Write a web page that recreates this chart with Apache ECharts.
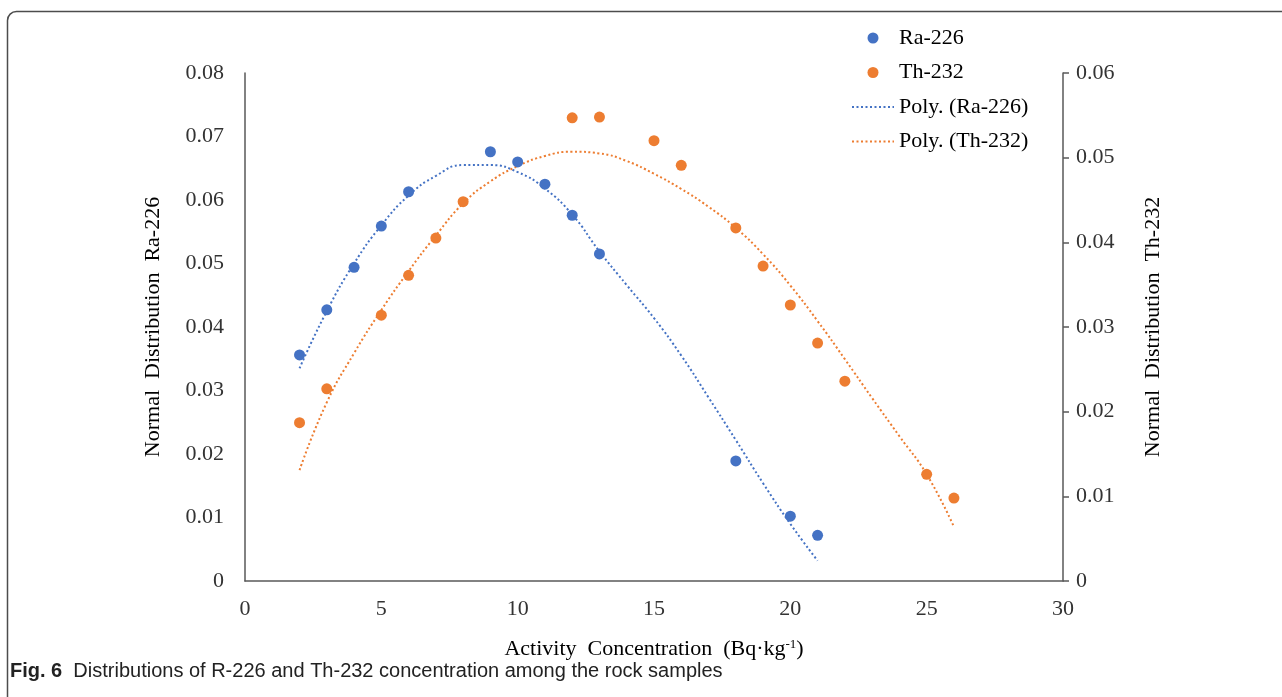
<!DOCTYPE html>
<html lang="en">
<head>
	<meta charset="UTF-8">
	<title>Fig. 6</title>
	<script src="https://cdn.jsdelivr.net/npm/echarts@6/dist/echarts.min.js"></script>
	<style>
		html, body { margin: 0; padding: 0; background: #fff; }
		#chart { width: 1282px; height: 697px; }
	</style>
</head>
<body>
	<div id="chart"></div>
	<script>
		// 散点数据
		var raX = [2, 3, 4, 5, 6, 9, 10, 11, 12, 13, 18, 20, 21];
		var raY = [0.0356, 0.0427, 0.0494, 0.0559, 0.0613, 0.0676, 0.0660, 0.0625, 0.0576, 0.0515, 0.0189, 0.0102, 0.0072];
		var thX = [2, 3, 5, 6, 7, 8, 12, 13, 15, 16, 18, 19, 20, 21, 22, 25, 26];
		var thY = [0.0187, 0.0227, 0.0314, 0.0361, 0.0405, 0.0448, 0.0547, 0.0548, 0.0520, 0.0491, 0.0417, 0.0372, 0.0326, 0.0281, 0.0236, 0.0126, 0.0098];

		// 趋势线
		var raTrendX = [2, 3, 4, 5, 6, 7, 8, 9, 10, 11, 12, 13, 14, 15, 16, 17, 18, 19, 20, 21];
		var raTrendY = [0.0335, 0.0425, 0.0500, 0.0560, 0.0607, 0.0638, 0.0655, 0.0655, 0.0644, 0.0618, 0.0577, 0.0519, 0.0466, 0.0414, 0.0355, 0.0289, 0.0222, 0.0154, 0.0090, 0.0032];
		var thTrendX = [2, 3, 4, 5, 6, 7, 8, 9, 10, 11, 12, 13, 14, 15, 16, 17, 18, 19, 20, 21, 22, 23, 24, 25, 26];
		var thTrendY = [0.0131, 0.0211, 0.0269, 0.0320, 0.0366, 0.0408, 0.0446, 0.0472, 0.0490, 0.0502, 0.0507, 0.0505, 0.0496, 0.0481, 0.0463, 0.0442, 0.0417, 0.0386, 0.0349, 0.0307, 0.0262, 0.0216, 0.0171, 0.0126, 0.0064];

		var blue = '#4472c4';
		var orange = '#ed7d31';
		var serif = '"Liberation Serif", "DejaVu Serif", serif';
		var fs = 22;

		function pairs(xs, ys) {
			return xs.map(function (x, i) { return [x, ys[i]]; });
		}

		var chart = echarts.init(document.getElementById('chart'));
		chart.setOption({
			animation: false,
			textStyle: { fontFamily: serif },
			grid: { left: 245, right: 219, top: 73, bottom: 116, containLabel: false },
			legend: {
				orient: 'vertical',
				left: 846,
				top: 22,
				itemWidth: 42,
				itemHeight: 11,
				itemGap: 12.5,
				textStyle: { fontFamily: serif, fontSize: fs, color: '#000' },
				data: ['Ra-226', 'Th-232', 'Poly. (Ra-226)', 'Poly. (Th-232)']
			},
			xAxis: {
				type: 'value',
				min: 0, max: 30, interval: 5,
				name: 'Activity  Concentration  (Bq·kg{sup|-1})',
				nameLocation: 'middle',
				nameGap: 57,
				nameTextStyle: {
					fontFamily: serif, fontSize: fs, color: '#000',
					rich: { sup: { fontFamily: serif, fontSize: 13, verticalAlign: 'top', padding: [0, 0, 10, 0], color: '#000' } }
				},
				axisLine: { lineStyle: { color: '#595959', width: 1.5 } },
				axisTick: { show: false },
				axisLabel: { fontFamily: serif, fontSize: fs, color: '#333', margin: 17 },
				splitLine: { show: false }
			},
			yAxis: [{
				type: 'value',
				min: 0, max: 0.08, interval: 0.01,
				name: 'Normal  Distribution  Ra-226',
				nameLocation: 'middle',
				nameRotate: 90,
				nameGap: 81,
				nameTextStyle: { fontFamily: serif, fontSize: fs, color: '#000', padding: [0, 0, 0, 0] },
				axisLine: { show: true, lineStyle: { color: '#595959', width: 1.5 } },
				axisTick: { show: false },
				axisLabel: { fontFamily: serif, fontSize: fs, color: '#333', margin: 21 },
				splitLine: { show: false }
			}, {
				type: 'value',
				position: 'right',
				min: 0, max: 0.06, interval: 0.01,
				name: 'Normal  Distribution  Th-232',
				nameLocation: 'middle',
				nameRotate: 90,
				nameGap: 79,
				nameTextStyle: { fontFamily: serif, fontSize: fs, color: '#000' },
				axisLine: { show: true, lineStyle: { color: '#595959', width: 1.5 } },
				axisTick: { show: true, inside: false, length: 6, lineStyle: { color: '#595959', width: 1.5 } },
				axisLabel: { fontFamily: serif, fontSize: fs, color: '#333', margin: 13 },
				splitLine: { show: false }
			}],
			series: [{
				name: 'Ra-226',
				type: 'scatter',
				yAxisIndex: 0,
				symbolSize: 11,
				itemStyle: { color: blue, opacity: 1 },
				data: pairs(raX, raY),
				z: 3
			}, {
				name: 'Th-232',
				type: 'scatter',
				yAxisIndex: 1,
				symbolSize: 11,
				itemStyle: { color: orange, opacity: 1 },
				data: pairs(thX, thY),
				z: 3
			}, {
				name: 'Poly. (Ra-226)',
				type: 'line',
				yAxisIndex: 0,
				smooth: 0.5,
				showSymbol: false,
				symbol: 'none',
				itemStyle: { color: blue, opacity: 0 },
				lineStyle: { color: blue, width: 2, type: [2, 2.5] },
				data: pairs(raTrendX, raTrendY),
				z: 2
			}, {
				name: 'Poly. (Th-232)',
				type: 'line',
				yAxisIndex: 1,
				smooth: 0.5,
				showSymbol: false,
				symbol: 'none',
				itemStyle: { color: orange, opacity: 0 },
				lineStyle: { color: orange, width: 2, type: [2, 2.5] },
				data: pairs(thTrendX, thTrendY),
				z: 2
			}],
			graphic: [{
				type: 'rect',
				shape: { x: 7.5, y: 11.5, width: 1400, height: 900, r: 9 },
				style: { fill: 'none', stroke: '#4d4d4d', lineWidth: 1.5 },
				silent: true
			}, {
				type: 'text',
				left: 10,
				top: 661,
				style: {
					text: '{b|Fig. 6}  Distributions of R-226 and Th-232 concentration among the rock samples',
					fontFamily: '"Liberation Sans", sans-serif',
					fontSize: 20,
					fill: '#222',
					rich: {
						b: { fontFamily: '"Liberation Sans", sans-serif', fontSize: 20, fontWeight: 'bold', fill: '#222' }
					}
				}
			}]
		});
	</script>
</body>
</html>
